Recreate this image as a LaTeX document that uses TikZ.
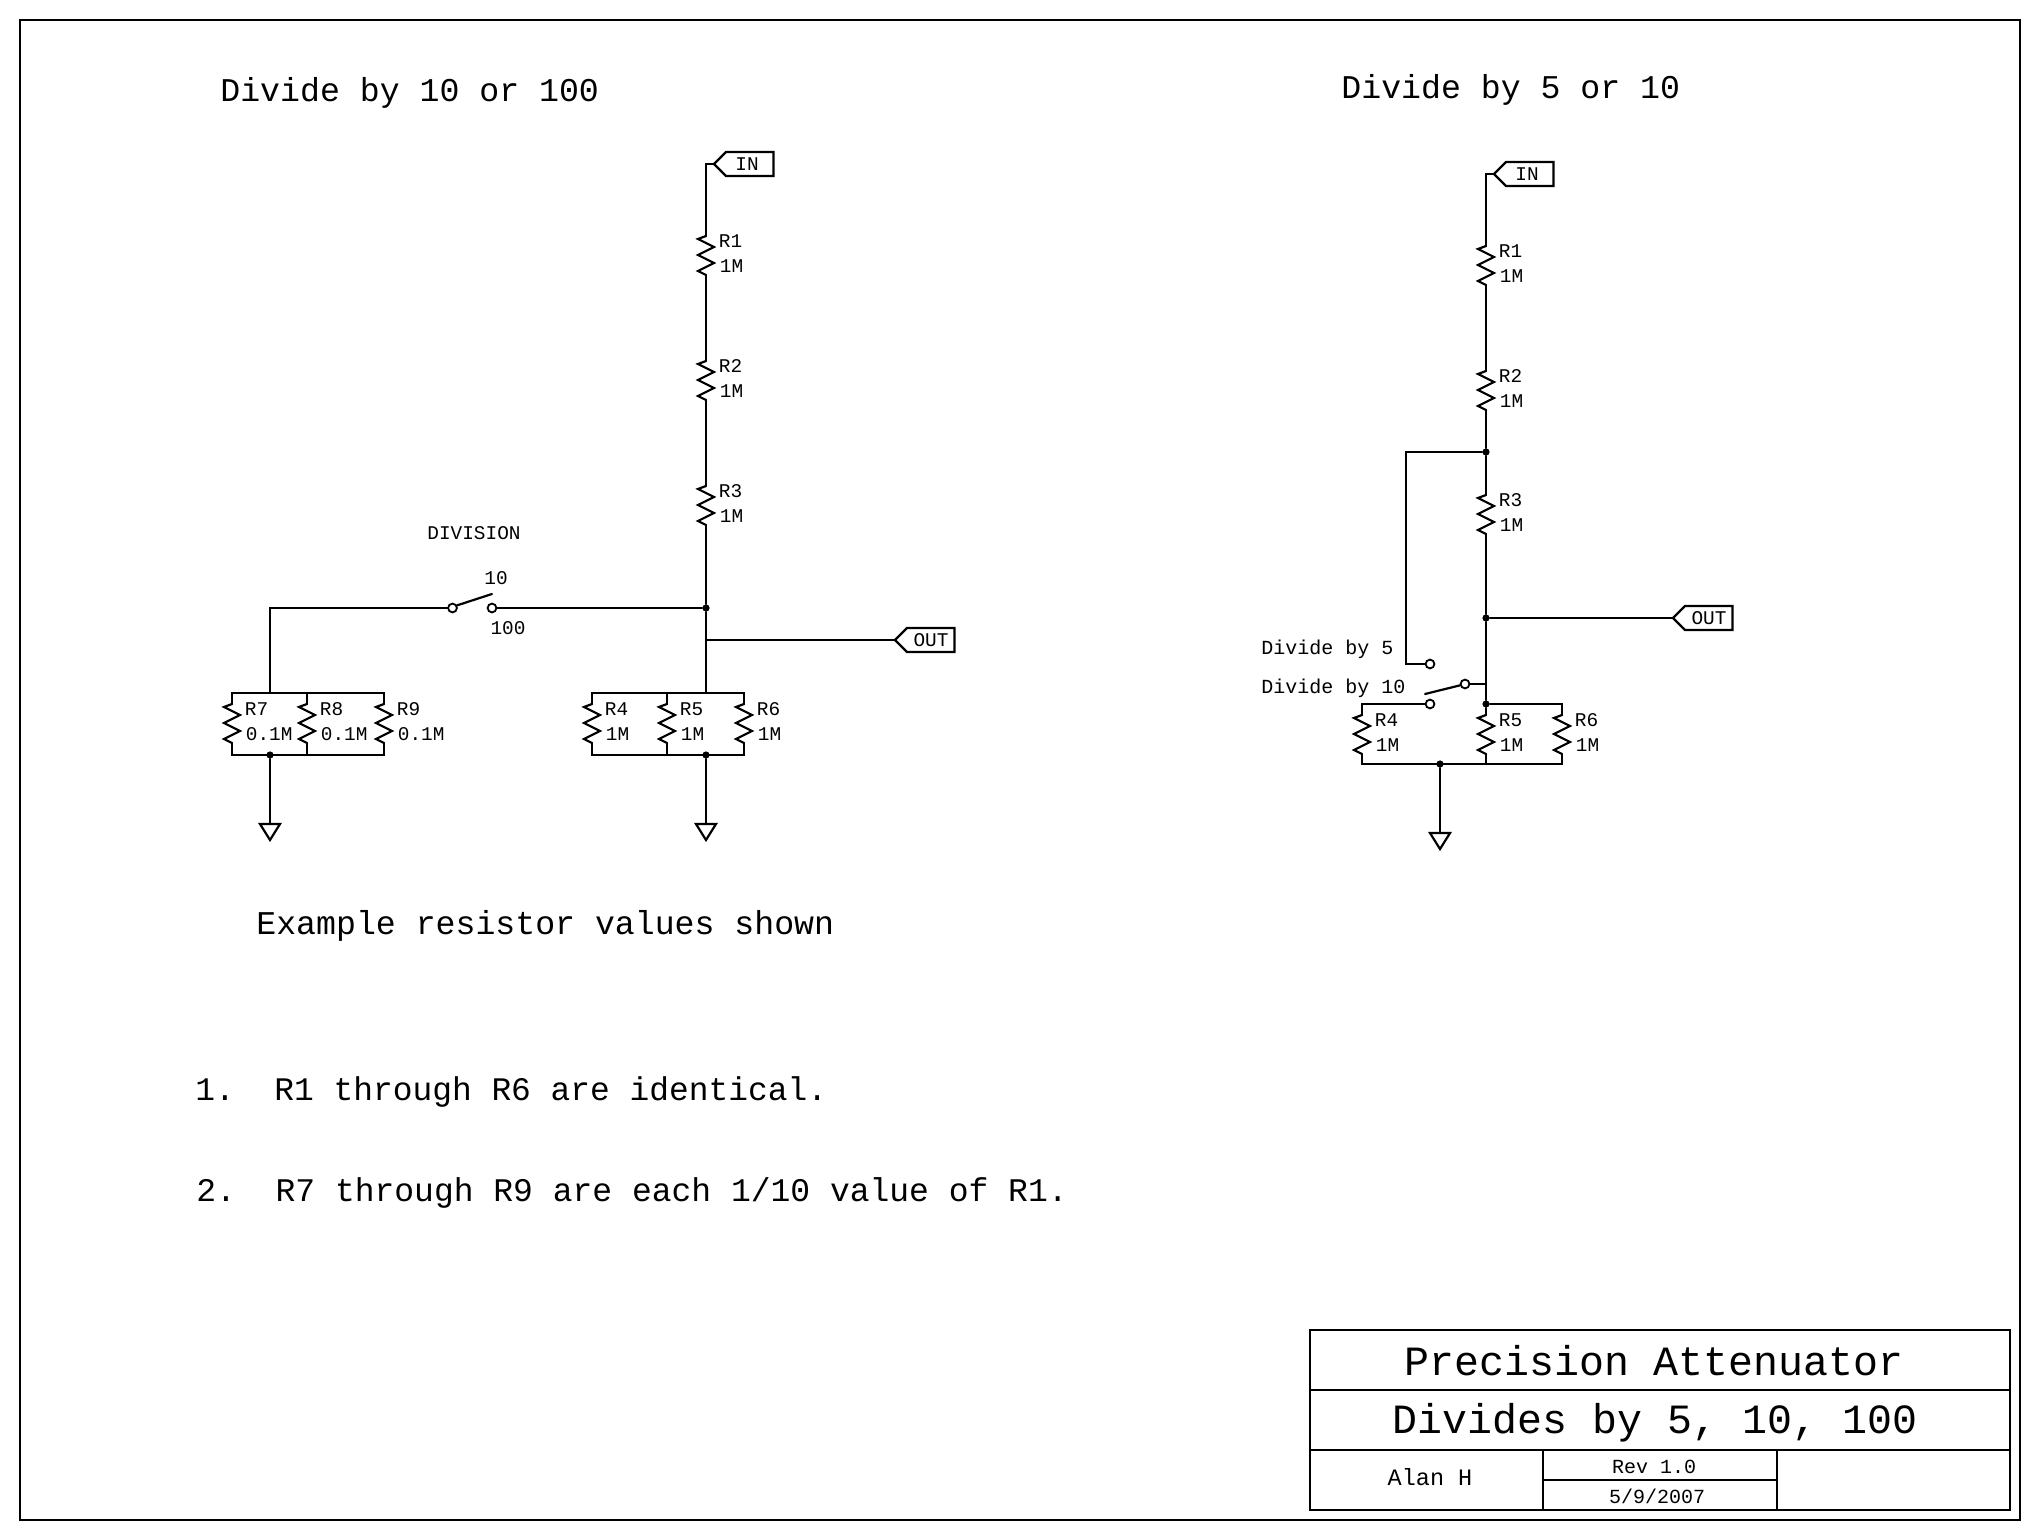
\documentclass[tikz,border=0pt]{standalone}
\usepackage{fontspec}
\setmainfont{Liberation Mono}
\newcommand{\fs}[1]{\fontsize{#1}{#1}\selectfont}
\tikzset{
  wire/.style={line width=1.1pt,line join=miter,line cap=round},
  thinbox/.style={line width=1.1pt},
  txt/.style={inner sep=0pt,text depth=0pt},
  lbl/.style={txt,text height=6.4pt,font=\fs{9.7}},
  big/.style={txt,text height=11pt,font=\fs{16.6},anchor=west},
  ttl/.style={txt,text height=13.7pt,font=\fs{20.8}},
  dotj/.style={circle,fill=black,inner sep=0pt,minimum size=3.6pt},
  contact/.style={circle,draw=black,line width=0.9pt,fill=white,inner sep=0pt,minimum size=4.4pt},
}
% name, x, ytop, ref, value
\newcommand{\resistor}[5]{%
  \coordinate (#1t) at (#2,#3);
  \coordinate (#1b) at (#2,#3+39);
  \draw[wire] (#1t) -- ++(-8,3) -- ++(16,8) -- ++(-16,8) -- ++(16,8) -- ++(-16,8) -- (#1b);
  \node[lbl,anchor=west] (#1ref) at (#2+12.5,#3+5) {#4};
  \node[lbl,anchor=west] (#1val) at (#2+13.5,#3+30.5) {#5};
}
% name, tip x, y, text, text offset
\newcommand{\flagport}[5]{%
  \coordinate (#1) at (#2,#3);
  \draw[wire] (#1) -- (#2+12,#3-12) -- (#2+59.5,#3-12) -- (#2+59.5,#3+12) -- (#2+12,#3+12) -- cycle;
  \node[lbl] (#1txt) at (#2+#5,#3) {#4};
}
% name, x, y
\newcommand{\groundsym}[3]{%
  \coordinate (#1) at (#2,#3);
  \draw[wire] (#2-10,#3) -- (#2+10,#3) -- (#2,#3+16) -- cycle;
}
\begin{document}
\begin{tikzpicture}[x=0.5pt,y=-0.5pt]
\useasboundingbox (0,0) rectangle (2040,1540);
\fill[white] (0,0) rectangle (2040,1540);
% frame
\draw[thinbox] (20,20) rectangle (2020,1520);

% headings and notes
\node[big] (h1) at (220,91) {Divide by 10 or 100};
\node[big] (h2) at (1341,88) {Divide by 5 or 10};
\node[big] (ex) at (256,923) {Example resistor values shown};
\node[big,font=\fs{16.45}] (n1) at (195,1089) {1.\ \ R1 through R6 are identical.};
\node[big,font=\fs{16.5}] (n2) at (196,1190) {2.\ \ R7 through R9 are each 1/10 value of R1.};

% ---------- left circuit ----------
\flagport{inA}{714}{164}{IN}{33}
\resistor{aa}{706}{236}{R1}{1M}
\resistor{ab}{706}{361}{R2}{1M}
\resistor{ac}{706}{486}{R3}{1M}
\node[dotj] (ja) at (706,608) {};
\coordinate (teeA) at (706,640);
\flagport{outA}{895}{640}{OUT}{36}
\coordinate (busA) at (706,693);
\resistor{ad}{592}{704}{R4}{1M}
\resistor{ae}{667}{704}{R5}{1M}
\resistor{af}{744}{704}{R6}{1M}
\node[dotj] (jga) at (706,755) {};
\groundsym{gndA}{706}{824}
\draw[wire] (inA) -| (aat);
\draw[wire] (aab) -- (abt);
\draw[wire] (abb) -- (act);
\draw[wire] (acb) -- (ja) -- (busA);
\draw[wire] (teeA) -- (outA);
\draw[wire] (adt) -- (adt |- busA) -- (aft |- busA) -- (aft);
\draw[wire] (aet) -- (aet |- busA);
\draw[wire] (adb) -- (adb |- jga) -- (afb |- jga) -- (afb);
\draw[wire] (aeb) -- (aeb |- jga);
\draw[wire] (jga) -- (gndA);

\node[contact] (cl) at (452.5,608) {};
\node[contact] (cr) at (492,608) {};
\coordinate (armA) at (492,594);
\draw[wire] (cl.30) -- (armA);
\draw[wire] (ja) -- (cr.east);
\node[lbl] (lab10) at (496,578) {10};
\node[lbl] (lab100) at (508,628) {100};
\node[lbl] (labdiv) at (474,533) {DIVISION};

\coordinate (busB) at (270,693);
\resistor{ag}{232}{704}{R7}{0.1M}
\resistor{ah}{307}{704}{R8}{0.1M}
\resistor{ai}{384}{704}{R9}{0.1M}
\node[dotj] (jgb) at (270,755) {};
\groundsym{gndB}{270}{824}
\draw[wire] (cl.west) -| (busB);
\draw[wire] (agt) -- (agt |- busB) -- (ait |- busB) -- (ait);
\draw[wire] (aht) -- (aht |- busB);
\draw[wire] (agb) -- (agb |- jgb) -- (aib |- jgb) -- (aib);
\draw[wire] (ahb) -- (ahb |- jgb);
\draw[wire] (jgb) -- (gndB);

% ---------- right circuit ----------
\flagport{inC}{1494}{174}{IN}{33}
\resistor{ba}{1486}{246}{R1}{1M}
\resistor{bb}{1486}{371}{R2}{1M}
\resistor{bc}{1486}{495}{R3}{1M}
\node[dotj] (jb) at (1486,452) {};
\node[dotj] (jc) at (1486,618) {};
\flagport{outC}{1673}{618}{OUT}{36}
\node[contact] (cc) at (1465,684) {};
\coordinate (swC) at (1486,684);
\node[dotj] (jd) at (1486,704) {};
\node[contact] (c5) at (1430,664) {};
\node[contact] (c10) at (1430,704) {};
\coordinate (armC) at (1425,694);
\coordinate (kC) at (1406,664);
\resistor{bd}{1362}{715}{R4}{1M}
\resistor{be}{1486}{715}{R5}{1M}
\resistor{bf}{1562}{715}{R6}{1M}
\node[dotj] (jge) at (1440,764) {};
\groundsym{gndC}{1440}{833}
\draw[wire] (inC) -| (bat);
\draw[wire] (bab) -- (bbt);
\draw[wire] (bbb) -- (jb) -- (bct);
\draw[wire] (bcb) -- (jc) -- (swC) -- (jd) -- (bet);
\draw[wire] (jc) -- (outC);
\draw[wire] (jb) -| (kC) -- (c5.west);
\draw[wire] (swC) -- (cc.east);
\draw[wire] (cc.195) -- (armC);
\draw[wire] (c10.west) -| (bdt);
\draw[wire] (jd) -| (bft);
\draw[wire] (bdb) -- (bdb |- jge) -- (bfb |- jge) -- (bfb);
\draw[wire] (beb) -- (beb |- jge);
\draw[wire] (jge) -- (gndC);
\node[lbl,anchor=west,font=\fs{10}] (lab5) at (1261,648) {Divide by 5};
\node[lbl,anchor=west,font=\fs{10}] (lab20) at (1261,687) {Divide by 10};

% ---------- title block ----------
\draw[thinbox] (1310,1330) rectangle (2010,1510);
\coordinate (tl1) at (1310,1390);
\coordinate (tr1) at (2010,1390);
\coordinate (tl2) at (1310,1450);
\coordinate (tr2) at (2010,1450);
\draw[thinbox] (tl1) -- (tr1);
\draw[thinbox] (tl2) -- (tr2);
\draw[thinbox] (1543,1450) -- (1543,1510);
\draw[thinbox] (1777,1450) -- (1777,1510);
\draw[thinbox] (1543,1480) -- (1777,1480);
\node[ttl] (t1) at (1654,1362) {Precision Attenuator};
\node[ttl] (t2) at (1655,1420) {Divides by 5, 10, 100};
\node[txt,text height=7.8pt,font=\fs{11.75}] (t3) at (1430,1478) {Alan H};
\node[txt,text height=6.6pt,font=\fs{10}] (t4) at (1654,1467) {Rev 1.0};
\node[txt,text height=6.6pt,font=\fs{10}] (t5) at (1657,1497) {5/9/2007};
\end{tikzpicture}
\end{document}
